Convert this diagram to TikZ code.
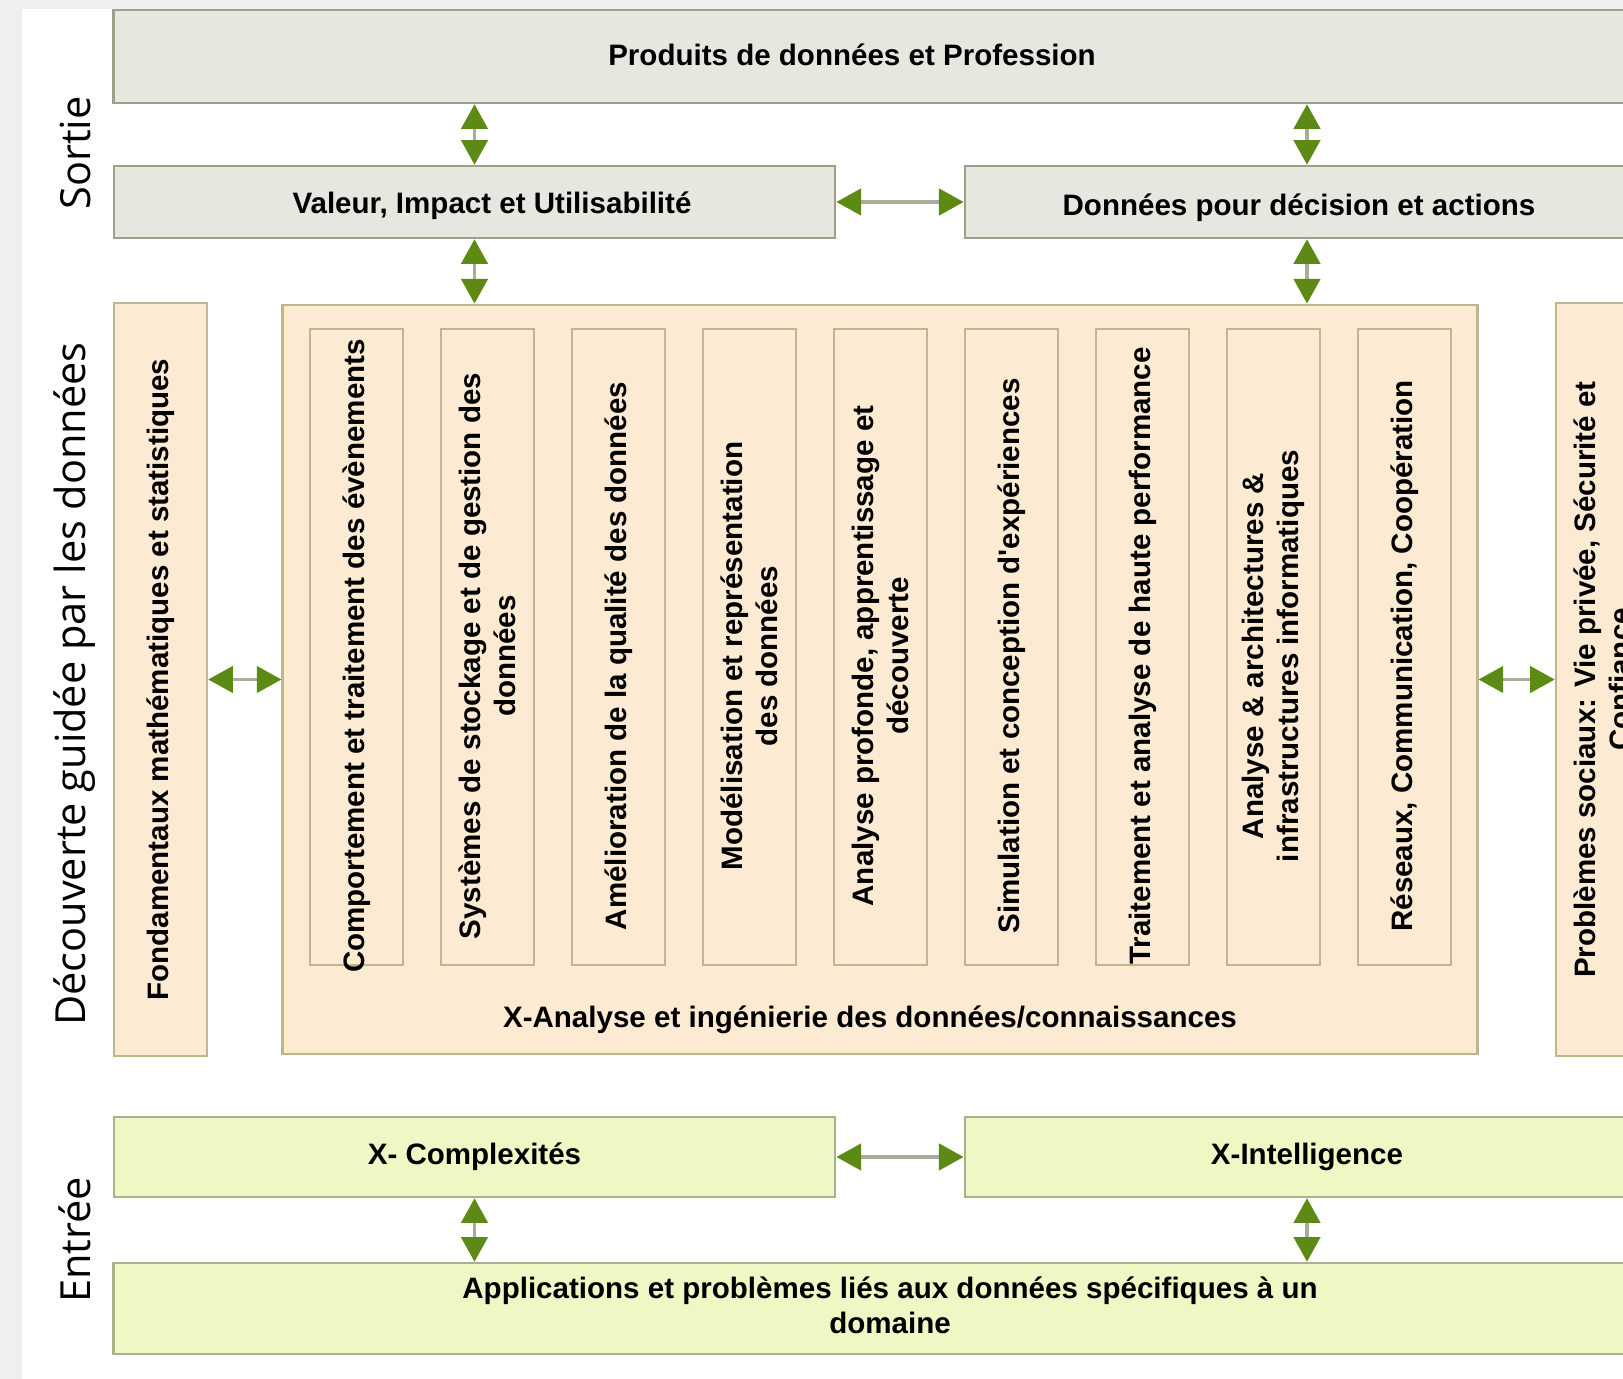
\documentclass[tikz,border=0pt]{standalone}
\usepackage{fontspec}
\setmainfont{Liberation Sans}
\newfontfamily\sidefont{Open Sans}
\usetikzlibrary{arrows.meta}

\definecolor{boxgrey}{HTML}{E6E7DE}
\definecolor{boxgreyline}{HTML}{A0A08A}
\definecolor{boxbeige}{HTML}{FCEBD2}
\definecolor{boxbeigeline}{HTML}{BDB78E}
\definecolor{boxgreen}{HTML}{EEF8C4}
\definecolor{boxgreenline}{HTML}{AAB28C}
\definecolor{arrgreen}{HTML}{5C8A14}
\definecolor{arrline}{HTML}{A8AE98}
\definecolor{stripgrey}{HTML}{EFEFEF}

\tikzset{
	greybox/.style={draw=boxgreyline, fill=boxgrey, line width=0.7pt, inner sep=0pt},
	beigebox/.style={draw=boxbeigeline, fill=boxbeige, line width=0.7pt, inner sep=0pt},
	greenbox/.style={draw=boxgreenline, fill=boxgreen, line width=0.7pt, inner sep=0pt},
	lbl/.style={font=\fontsize{8.4}{9.9}\selectfont\bfseries, align=center, inner sep=0pt},
	vlbl/.style={lbl, rotate=90},
	sidelbl/.style={font=\sidefont\fontsize{11.8}{14}\selectfont, rotate=90, inner sep=0pt},
	biarrow/.style={draw=arrline, line width=0.9pt,
		{Triangle[color=arrgreen,length=7pt,width=7.5pt]}-{Triangle[color=arrgreen,length=7pt,width=7.5pt]}}
}

\begin{document}
\begin{tikzpicture}[x=0.01cm, y=-0.01cm]
		\useasboundingbox (0,0) rectangle (1623,1379);
		\clip (0,0) rectangle (1623,1379);
		\fill[white] (0,0) rectangle (1623,1379);
		\fill[stripgrey] (0,0) rectangle (22,1379);
		\fill[stripgrey] (0,0) rectangle (1623,9);
		
		% phase labels
		\node[sidelbl] (sortie) at (75,153) {Sortie};
		\node[sidelbl] (decouverte) at (75,684) {Découverte guidée par les données};
		\node[sidelbl] (entree) at (75,1240) {Entrée};
		
		% output
		\node[greybox, minimum width=15.86cm, minimum height=0.93cm] (prod) at (907,56.5) {};
		\node[lbl] (prodtxt) at (852,55) {Produits de données et Profession};
		\node[greybox, minimum width=7.21cm, minimum height=0.72cm] (valeur) at (474.5,202) {};
		\node[lbl] (valeurtxt) at (492,206) {Valeur, Impact et Utilisabilité};
		\node[greybox, minimum width=6.84cm, minimum height=0.72cm] (donnees) at (1307,202) {};
		\node[lbl] (donneestxt) at (1299,208) {Données pour décision et actions};
		
		% discovery
		\node[beigebox, minimum width=0.93cm, minimum height=7.53cm] (fond) at (160.5,679.5) {};
		\node[vlbl] (fondtxt) at (fond.center) {Fondamentaux mathématiques et statistiques};
		\node[beigebox, minimum width=11.94cm, minimum height=7.49cm] (big) at (880,679.5) {};
		\node[lbl] (bigtxt) at (870,1020) {X-Analyse et ingénierie des données/connaissances};
		\node[beigebox, minimum width=0.93cm, minimum height=7.53cm] (social) at (1602.5,679.5) {};
		\node[vlbl] (socialtxt) at (social.center) {Problèmes sociaux: Vie privée, Sécurité et\\Confiance};
		
		\foreach \i/\txt in {1/{Comportement et traitement des évènements},
			2/{Systèmes de stockage et de gestion des\\données},
			3/{Amélioration de la qualité des données},
			4/{Modélisation et représentation\\des données},
			5/{Analyse profonde, apprentissage et\\découverte},
			6/{Simulation et conception d\textquotesingle expériences},
			7/{Traitement et analyse de haute performance},
			8/{Analyse \& architectures \&\\infrastructures informatiques},
			9/{Réseaux, Communication, Coopération}}{
			\node[beigebox, minimum width=0.93cm, minimum height=6.36cm] (col\i) at ({356.5+131*(\i-1)},647) {};
			\node[vlbl] (coltxt\i) at ({356.5+131*(\i-1)},656) {\txt};
		}
		
		% input
		\node[greenbox, lbl, minimum width=7.21cm, minimum height=0.80cm] (complex) at (474.5,1157) {X- Complexités};
		\node[greenbox, lbl, minimum width=6.84cm, minimum height=0.80cm] (intel) at (1307,1157) {X-Intelligence};
		\node[greenbox, minimum width=15.52cm, minimum height=0.91cm] (appli) at (890,1308.5) {};
		\node[lbl] (applitxt) at (890,1305) {Applications et problèmes liés aux données spécifiques à un\\domaine};
		
		% links
		\draw[biarrow] (valeur.north) -- (valeur.north |- prod.south);
		\draw[biarrow] (donnees.north) -- (donnees.north |- prod.south);
		\draw[biarrow] (valeur) -- (donnees);
		\draw[biarrow] (valeur.south) -- (valeur.south |- big.north);
		\draw[biarrow] (donnees.south) -- (donnees.south |- big.north);
		\draw[biarrow] (fond) -- (big);
		\draw[biarrow] (big) -- (social);
		\draw[biarrow] (complex) -- (intel);
		\draw[biarrow] (complex.south) -- (complex.south |- appli.north);
		\draw[biarrow] (intel.south) -- (intel.south |- appli.north);
\end{tikzpicture}
\end{document}
